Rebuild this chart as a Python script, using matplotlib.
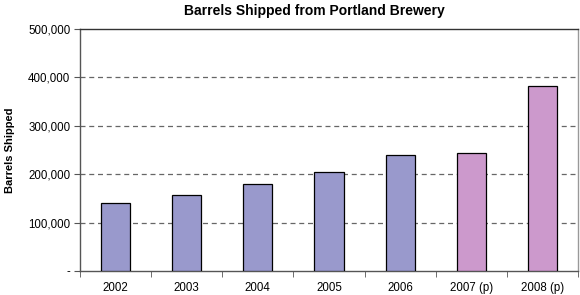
import matplotlib.pyplot as plt
import numpy as np
from matplotlib.ticker import FuncFormatter

plt.rcParams['font.family'] = ['Liberation Sans', 'DejaVu Sans']

# Dane
years = ['2002', '2003', '2004', '2005', '2006', '2007 (p)', '2008 (p)']
barrels = [141000, 158000, 180000, 204000, 239000, 244000, 383000]
projected = [False, False, False, False, False, True, True]
y_ticks = [0, 100000, 200000, 300000, 400000, 500000]

colors = ['#cc99cc' if p else '#9999cc' for p in projected]

fig = plt.figure(figsize=(5.8, 2.95), dpi=100)
ax = fig.add_axes([80 / 580, 24 / 295, 498 / 580, 242 / 295])

x = np.arange(len(years))
ax.bar(x, barrels, width=0.41, color=colors, edgecolor='black', linewidth=0.9, zorder=3)

ax.set_xlim(-0.5, len(years) - 0.5)
ax.set_ylim(0, 500000)
ax.set_yticks(y_ticks)
ax.yaxis.set_major_formatter(FuncFormatter(lambda v, p: '-' if v == 0 else f'{int(v):,}'))

ax.set_xticks(x)
ax.set_xticklabels(years)
ax.set_xticks(np.arange(-0.5, len(years), 1), minor=True)
ax.tick_params(axis='x', which='major', length=0, pad=8, labelsize=8.3)
ax.tick_params(axis='x', which='minor', length=4, color='#555555', direction='out')
ax.tick_params(axis='y', length=4, color='#555555', labelsize=8.3, pad=3)

for v in y_ticks[1:-1]:
    ax.axhline(v, color='#666666', linestyle=(0, (4, 3)), linewidth=0.9, zorder=1)

ax.spines['left'].set_color('#555555')
ax.spines['bottom'].set_color('#555555')
ax.spines['right'].set_color('#999999')
ax.spines['top'].set_color('#333333')
for s in ax.spines.values():
    s.set_linewidth(1.0)

ax.set_ylabel('Barrels Shipped', fontsize=8, fontweight='bold')
ax.yaxis.set_label_coords(-0.131, 0.5)
fig.text(314 / 580, 0.962, 'Barrels Shipped from Portland Brewery',
         ha='center', va='center', fontsize=10, fontweight='bold')

plt.savefig('out.png', dpi=100)
